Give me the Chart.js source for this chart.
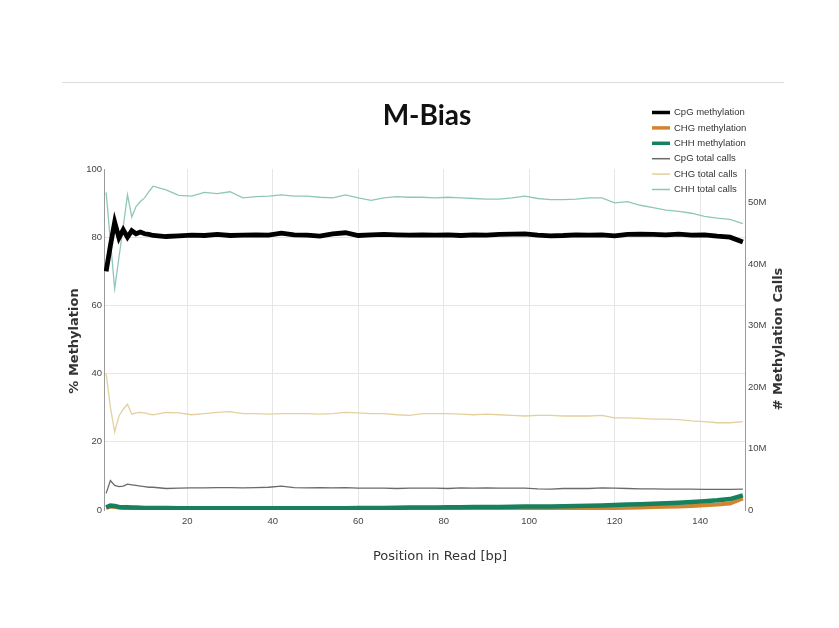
<!DOCTYPE html>
<html>
<head>
<meta charset="utf-8">
<title>M-Bias</title>
<script src="https://cdn.jsdelivr.net/npm/chart.js@4.4.1/dist/chart.umd.min.js"></script>
<style>
  html, body { margin: 0; padding: 0; background: #fff; overflow: hidden; }
  #wrap { position: relative; width: 839px; height: 628px; }
  #rule { position: absolute; left: 62px; top: 82px; width: 722px; height: 1px; background: #dcdcdc; }
  canvas { position: absolute; left: 0; top: 0; }
</style>
</head>
<body>
<div id="wrap">
  <canvas id="mbias" width="839" height="628"></canvas>
  <div id="rule"></div>
</div>
<script>
// posiciones en la lectura (bp)
const positions = [1, 2, 3, 4, 5, 6, 7, 8, 9, 10, 11, 12,
  15, 18, 21, 24, 27, 30, 33, 36, 39, 42, 45, 48, 51, 54, 57,
  60, 63, 66, 69, 72, 75, 78, 81, 84, 87, 90, 93, 96, 99, 102,
  105, 108, 111, 114, 117, 120, 123, 126, 129, 132, 135, 138, 141, 144, 147, 150];

// % metilacion
const cpgMeth = [70, 77.5, 84.4, 79.8, 82.2, 80.0, 81.9, 81.0, 81.5, 81.0, 80.8, 80.5,
  80.2, 80.4, 80.6, 80.5, 80.8, 80.5, 80.6, 80.7, 80.6, 81.2, 80.7, 80.6, 80.3, 81.0, 81.3,
  80.5, 80.7, 80.8, 80.7, 80.6, 80.7, 80.6, 80.7, 80.5, 80.7, 80.6, 80.8, 80.9, 81.0, 80.6,
  80.4, 80.5, 80.7, 80.6, 80.7, 80.4, 80.8, 80.9, 80.8, 80.7, 80.9, 80.6, 80.7, 80.3, 80.0, 78.6];
const chgMeth = [0.6, 1.0, 0.9, 0.7, 0.6, 0.5, 0.5, 0.45, 0.4, 0.4, 0.4, 0.35,
  0.35, 0.3, 0.3, 0.3, 0.3, 0.3, 0.3, 0.3, 0.3, 0.3, 0.3, 0.3, 0.3, 0.3, 0.3,
  0.3, 0.3, 0.3, 0.3, 0.3, 0.3, 0.3, 0.3, 0.3, 0.3, 0.3, 0.32, 0.33, 0.35, 0.37,
  0.4, 0.42, 0.45, 0.5, 0.55, 0.6, 0.68, 0.76, 0.85, 0.95, 1.05, 1.2, 1.4, 1.6, 1.9, 3.4];
const chhMeth = [0.8, 1.3, 1.2, 0.9, 0.8, 0.8, 0.7, 0.7, 0.65, 0.6, 0.6, 0.6,
  0.55, 0.5, 0.5, 0.5, 0.5, 0.5, 0.5, 0.5, 0.5, 0.5, 0.5, 0.5, 0.5, 0.5, 0.5,
  0.55, 0.6, 0.6, 0.65, 0.7, 0.7, 0.75, 0.8, 0.8, 0.85, 0.9, 0.9, 0.95, 1.0, 1.0,
  1.05, 1.1, 1.2, 1.25, 1.35, 1.45, 1.6, 1.7, 1.85, 2.0, 2.15, 2.35, 2.6, 2.85, 3.2, 4.3];

// llamadas totales (millones)
const cpgCallsM = [2.7, 4.8, 4.0, 3.8, 3.9, 4.2, 4.1, 4.0, 3.9, 3.8, 3.7, 3.7,
  3.5, 3.55, 3.6, 3.6, 3.65, 3.65, 3.6, 3.65, 3.7, 3.9, 3.65, 3.6, 3.65, 3.6, 3.65,
  3.55, 3.55, 3.55, 3.5, 3.55, 3.55, 3.55, 3.5, 3.6, 3.55, 3.6, 3.55, 3.55, 3.55, 3.45,
  3.4, 3.5, 3.5, 3.5, 3.6, 3.55, 3.5, 3.45, 3.45, 3.4, 3.4, 3.4, 3.35, 3.35, 3.35, 3.4];
const chgCallsM = [22.2, 16.7, 12.7, 15.3, 16.4, 17.2, 15.6, 15.8, 15.9, 15.8, 15.6, 15.5,
  15.9, 15.8, 15.5, 15.7, 15.9, 16.0, 15.7, 15.7, 15.6, 15.7, 15.7, 15.7, 15.6, 15.7, 15.9,
  15.8, 15.7, 15.7, 15.5, 15.4, 15.7, 15.7, 15.7, 15.6, 15.5, 15.6, 15.5, 15.4, 15.3, 15.4,
  15.4, 15.3, 15.3, 15.3, 15.4, 15.0, 15.0, 14.9, 14.8, 14.8, 14.7, 14.5, 14.4, 14.2, 14.2, 14.4];
const chhCallsM = [51.7, 43.8, 36.0, 41.1, 46.1, 51.3, 47.7, 49.4, 50.2, 50.8, 51.8, 52.7,
  52.1, 51.2, 51.1, 51.7, 51.5, 51.8, 50.8, 51.0, 51.1, 51.3, 51.1, 51.1, 50.9, 50.8, 51.3,
  50.8, 50.4, 50.8, 51.0, 50.9, 50.9, 50.8, 50.9, 50.8, 50.7, 50.6, 50.6, 50.8, 51.1, 50.7,
  50.5, 50.5, 50.6, 50.8, 50.8, 50.0, 50.2, 49.6, 49.2, 48.8, 48.6, 48.3, 47.8, 47.5, 47.3, 46.6];

const seriesNames = ['CpG methylation', 'CHG methylation', 'CHH methylation',
  'CpG total calls', 'CHG total calls', 'CHH total calls'];
const xTicks = [20, 40, 60, 80, 100, 120, 140];
const leftTicks = [0, 20, 40, 60, 80, 100];
const rightTicksM = [0, 10, 20, 30, 40, 50];

const colores = ['#000000', '#d2852e', '#17805e', '#6a6a6a', '#e4d09e', '#8fc6bb'];
const grosor = [4.8, 4, 4.5, 1.3, 1.3, 1.3];
// orden de dibujo: menor = encima
const orden = [1, 3, 2, 6, 5, 4];

// plugin para titulo, leyenda y titulos de ejes
const decoracion = {
  id: 'decoracion',
  afterDraw(chart) {
    const c = chart.ctx;
    c.save();
    c.fillStyle = '#111';
    c.font = 'bold 28px Lato';
    c.textAlign = 'center';
    c.textBaseline = 'middle';
    c.fillText('M-Bias', 427, 116);

    c.fillStyle = '#333';
    c.font = '13px "DejaVu Sans"';
    c.fillText('Position in Read [bp]', 440, 557);

    c.font = 'bold 13px "DejaVu Sans"';
    c.translate(75, 341);
    c.rotate(-Math.PI / 2);
    c.fillText('% Methylation', 0, 0);
    c.restore();

    c.save();
    c.fillStyle = '#333';
    c.font = 'bold 13px "DejaVu Sans"';
    c.textAlign = 'center';
    c.textBaseline = 'middle';
    c.translate(779, 339);
    c.rotate(-Math.PI / 2);
    c.fillText('# Methylation Calls', 0, 0);
    c.restore();

    // leyenda
    c.save();
    c.font = '9.5px "Liberation Sans"';
    c.textBaseline = 'middle';
    c.textAlign = 'left';
    chart.data.datasets.forEach((ds, i) => {
      const y = 112.5 + i * 15.4;
      c.strokeStyle = ds.borderColor;
      c.lineWidth = ds.borderWidth > 2 ? 3.5 : 1.5;
      c.beginPath();
      c.moveTo(652, y);
      c.lineTo(670, y);
      c.stroke();
      c.fillStyle = '#333';
      c.fillText(ds.label, 674, y);
    });
    c.restore();
  }
};

function crearGrafico() {
  const ctx = document.getElementById('mbias').getContext('2d');
  const valores = [cpgMeth, chgMeth, chhMeth, cpgCallsM, chgCallsM, chhCallsM];

  const datasets = seriesNames.map((nombre, i) => ({
    label: nombre,
    data: valores[i],
    yAxisID: i < 3 ? 'y' : 'y2',
    borderColor: colores[i],
    backgroundColor: colores[i],
    borderWidth: grosor[i],
    pointRadius: 0,
    tension: 0,
    fill: false,
    order: orden[i]
  }));

  new Chart(ctx, {
    type: 'line',
    data: { labels: positions, datasets: datasets },
    options: {
      responsive: false,
      animation: false,
      events: [],
      layout: { padding: { top: 169, left: 0, right: 0, bottom: 0 } },
      scales: {
        x: {
          type: 'linear',
          min: 0.5,
          max: 150.5,
          afterFit: s => { s.height = 118; },
          afterBuildTicks: s => { s.ticks = xTicks.map(v => ({ value: v })); },
          ticks: { color: '#444', padding: 6, font: { family: 'Liberation Sans', size: 9.5 } },
          grid: { color: '#e6e6e6', drawTicks: false },
          border: { display: false }
        },
        y: {
          position: 'left',
          min: 0,
          max: 100,
          afterFit: s => { s.width = 104; },
          afterBuildTicks: s => { s.ticks = leftTicks.map(v => ({ value: v })); },
          ticks: { color: '#444', padding: 2, font: { family: 'Liberation Sans', size: 9.5 } },
          grid: {
            drawTicks: false,
            color: c => (c.tick && (c.tick.value === 0 || c.tick.value === 100)) ? 'rgba(0,0,0,0)' : '#e6e6e6'
          },
          border: { color: '#9a9a9a' }
        },
        y2: {
          position: 'right',
          min: 0,
          max: 55.5,
          afterFit: s => { s.width = 94; },
          afterBuildTicks: s => { s.ticks = rightTicksM.map(v => ({ value: v })); },
          ticks: {
            color: '#444', padding: 3, font: { family: 'Liberation Sans', size: 9.5 },
            callback: v => v === 0 ? '0' : v + 'M'
          },
          grid: { drawOnChartArea: false, drawTicks: false },
          border: { color: '#9a9a9a' }
        }
      },
      plugins: {
        legend: { display: false },
        tooltip: { enabled: false }
      }
    },
    plugins: [decoracion]
  });
}

window.onload = crearGrafico;
</script>
</body>
</html>
